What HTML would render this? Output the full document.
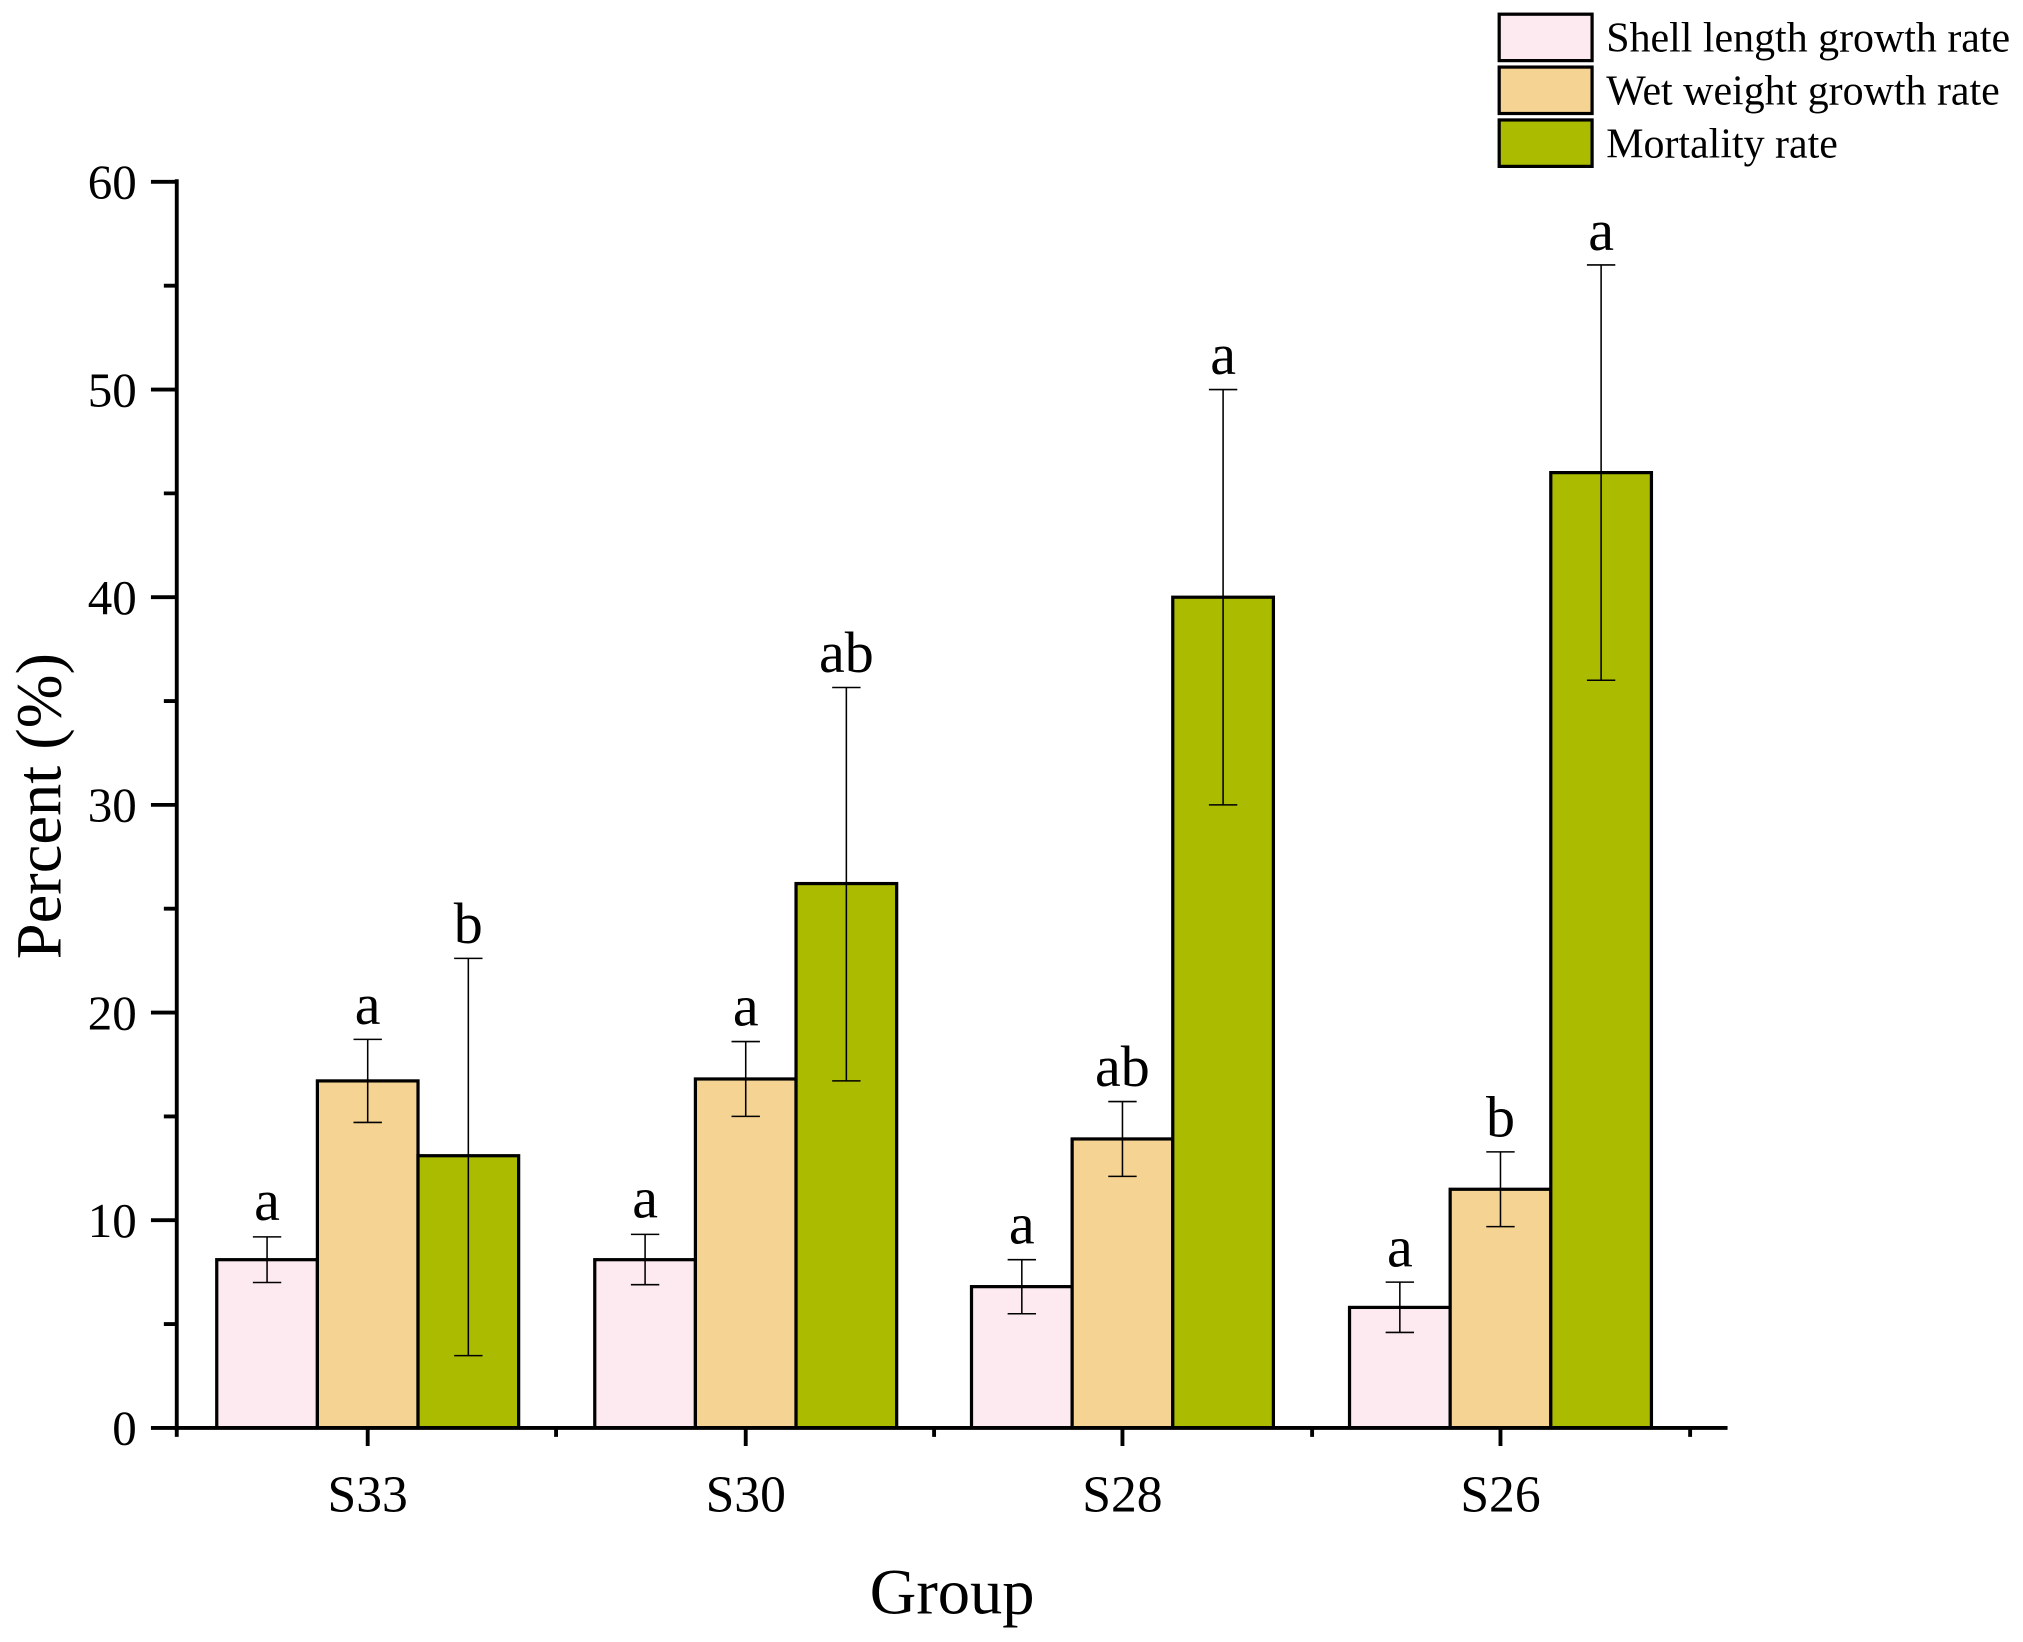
<!DOCTYPE html>
<html><head><style>html,body{margin:0;padding:0;background:#fff}svg{display:block}</style></head><body>
<svg width="2023" height="1642" viewBox="0 0 1568 1273" preserveAspectRatio="none" xmlns="http://www.w3.org/2000/svg" font-family="Liberation Serif, serif">
<rect width="1568" height="1273" fill="#fff"/>
<g stroke="#000" stroke-width="2.5">
<rect x="168" y="976.6" width="78" height="130.4" fill="#fdeaf0"/>
<rect x="246" y="838" width="78" height="269" fill="#f5d393"/>
<rect x="324" y="896" width="78" height="211" fill="#aabb00"/>
<rect x="461" y="976.6" width="78" height="130.4" fill="#fdeaf0"/>
<rect x="539" y="836.5" width="78" height="270.5" fill="#f5d393"/>
<rect x="617" y="685" width="78" height="422" fill="#aabb00"/>
<rect x="753" y="997.5" width="78" height="109.5" fill="#fdeaf0"/>
<rect x="831" y="883" width="78" height="224" fill="#f5d393"/>
<rect x="909" y="463" width="78" height="644" fill="#aabb00"/>
<rect x="1046" y="1013.6" width="78" height="93.4" fill="#fdeaf0"/>
<rect x="1124" y="922" width="78" height="185" fill="#f5d393"/>
<rect x="1202" y="366.4" width="78" height="740.6" fill="#aabb00"/>
</g>
<g stroke="#000" stroke-width="1.2" fill="none">
<path d="M207 958.9V994.3M196 958.9H218M196 994.3H218"/>
<path d="M285 805.8V870.2M274 805.8H296M274 870.2H296"/>
<path d="M363 743V1051M352 743H374M352 1051H374"/>
<path d="M500 957V996M489 957H511M489 996H511"/>
<path d="M578 807.5V865.5M567 807.5H589M567 865.5H589"/>
<path d="M656 533V838M645 533H667M645 838H667"/>
<path d="M792 976.6V1018.5M781 976.6H803M781 1018.5H803"/>
<path d="M870 854V912M859 854H881M859 912H881"/>
<path d="M948 302V624M937 302H959M937 624H959"/>
<path d="M1085 994V1033M1074 994H1096M1074 1033H1096"/>
<path d="M1163 893V951M1152 893H1174M1152 951H1174"/>
<path d="M1241 205.4V527.4M1230 205.4H1252M1230 527.4H1252"/>
</g>
<g font-size="45" text-anchor="middle">
<text x="207" y="946">a</text><text x="285" y="794">a</text><text x="363" y="731">b</text>
<text x="500" y="944">a</text><text x="578" y="795">a</text><text x="656" y="521">ab</text>
<text x="792" y="964">a</text><text x="870" y="842">ab</text><text x="948" y="290">a</text>
<text x="1085" y="982">a</text><text x="1163" y="881">b</text><text x="1241" y="194">a</text>
</g>
<g stroke="#000" stroke-width="3" fill="none">
<path d="M137 139V1109M135 1107H1339"/>
<path d="M117 141H137M117 302H137M117 463H137M117 624H137M117 785H137M117 946H137M117 1107H137"/>
<path d="M127 221.5H137M127 382.5H137M127 543.5H137M127 704.5H137M127 865.5H137M127 1026.5H137"/>
<path d="M285 1107V1121M578 1107V1121M870 1107V1121M1163 1107V1121"/>
<path d="M137 1107V1114M431 1107V1114M724 1107V1114M1017 1107V1114M1310 1107V1114"/>
</g>
<g font-size="38" text-anchor="end">
<text x="106" y="154">60</text><text x="106" y="315">50</text><text x="106" y="476">40</text><text x="106" y="637">30</text><text x="106" y="798">20</text><text x="106" y="959">10</text><text x="106" y="1120">0</text>
</g>
<g font-size="40" text-anchor="middle">
<text x="285" y="1172">S33</text><text x="578" y="1172">S30</text><text x="870" y="1172">S28</text><text x="1163" y="1172">S26</text>
</g>
<text x="738" y="1251" font-size="50" text-anchor="middle">Group</text>
<text transform="translate(47,625) rotate(-90)" font-size="50" text-anchor="middle">Percent (%)</text>
<g stroke="#000" stroke-width="2.5">
<rect x="1162" y="11" width="72" height="36" fill="#fdeaf0"/>
<rect x="1162" y="52" width="72" height="36" fill="#f5d393"/>
<rect x="1162" y="93" width="72" height="36" fill="#aabb00"/>
</g>
<g font-size="32.5">
<text x="1245" y="40">Shell length growth rate</text>
<text x="1245" y="81">Wet weight growth rate</text>
<text x="1245" y="122">Mortality rate</text>
</g>
</svg>
</body></html>
